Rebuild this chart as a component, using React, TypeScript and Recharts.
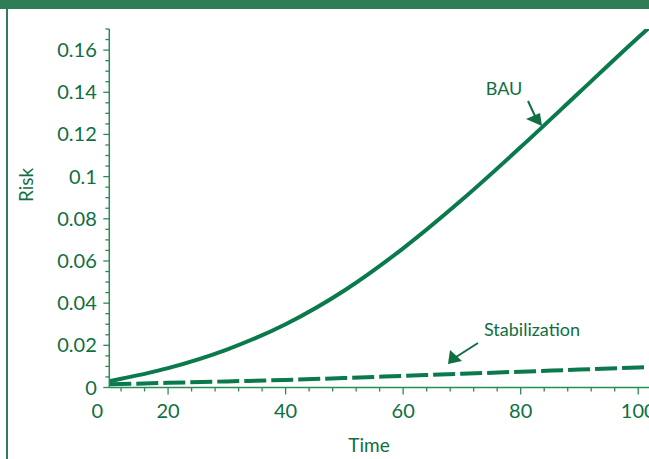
import React from 'react';
import { LineChart, Line, XAxis, YAxis } from 'recharts';

// Time values (axis starts at 10, labelled "0" in the original)
const years = [10, 20, 30, 40, 50, 60, 70, 80, 90, 100, 102];
const bauRisk = [0.003, 0.0092, 0.018, 0.03, 0.046, 0.066, 0.089, 0.114, 0.14, 0.166, 0.171];
const stabRisk = [0.0015, 0.0022, 0.0029, 0.0036, 0.0045, 0.0055, 0.0065, 0.0075, 0.0085, 0.0095, 0.0097];

const xOriginTick = 10;
const xOriginLabel = '0';
const xMajorTicks = [20, 40, 60, 80, 100];
const xMinorTicks = [12, 16, 24, 28, 32, 36, 44, 48, 52, 56, 64, 68, 72, 76, 84, 88, 92, 96, 104, 108];

const yMajorTicks = [0, 0.02, 0.04, 0.06, 0.08, 0.1, 0.12, 0.14, 0.16];
const yMinorTicks = [
  0.005, 0.01, 0.015, 0.025, 0.03, 0.035, 0.045, 0.05, 0.055, 0.065, 0.07, 0.075,
  0.085, 0.09, 0.095, 0.105, 0.11, 0.115, 0.125, 0.13, 0.135, 0.145, 0.15, 0.155, 0.165, 0.17,
];

const data = years.map((t, i) => ({ t, bau: bauRisk[i], stab: stabRisk[i] }));
const xTicks = [xOriginTick, ...xMajorTicks, ...xMinorTicks].sort((a, b) => a - b);
const yTicks = [...yMajorTicks, ...yMinorTicks].sort((a, b) => a - b);

const LINE = '#0a7a4c';
const TEXT = '#0f6e42';
const AXIS = '#2a8a5c';
const HEADER = '#2e7d57';
const FONT = 'Lato, "Open Sans", sans-serif';

const isMajor = (arr: number[], v: number) => arr.some((m) => Math.abs(m - v) < 1e-9);

const XTick = (props: any) => {
  const { x, y, payload } = props;
  const v = payload.value;
  if (Math.abs(v - xOriginTick) < 1e-9) {
    return (
      <g>
        <text x={x - 12} y={y + 30} textAnchor="middle" fill={TEXT} fontSize={20} fontFamily={FONT}>
          {xOriginLabel}
        </text>
      </g>
    );
  }
  const major = isMajor(xMajorTicks, v);
  return (
    <g>
      <line x1={x} x2={x} y1={y} y2={y + (major ? 7 : 4)} stroke={AXIS} strokeWidth={1.3} />
      {major && (
        <text x={x} y={y + 30} textAnchor="middle" fill={TEXT} fontSize={20} fontFamily={FONT}>
          {String(v)}
        </text>
      )}
    </g>
  );
};

const YTick = (props: any) => {
  const { x, y, payload } = props;
  const v = payload.value;
  const major = isMajor(yMajorTicks, v);
  return (
    <g>
      <line x1={x - (major ? 6 : 4)} x2={x} y1={y} y2={y} stroke={AXIS} strokeWidth={1.3} />
      {major && (
        <text x={x - 12.5} y={y + 7} textAnchor="end" fill={TEXT} fontSize={20} fontFamily={FONT}>
          {String(Number(v.toFixed(3)))}
        </text>
      )}
    </g>
  );
};

export default function App() {
  return (
    <div style={{ position: 'absolute', left: 0, top: 0, width: 649, height: 459, overflow: 'hidden', background: '#fff' }}>
      <LineChart width={720} height={459} data={data} margin={{ top: 29, right: 23, bottom: 0, left: 0 }}>
        <XAxis
          dataKey="t"
          type="number"
          domain={[10, 110]}
          ticks={xTicks}
          interval={0}
          tick={XTick}
          tickLine={false}
          tickSize={0}
          tickMargin={0}
          height={71.5}
          axisLine={{ stroke: AXIS, strokeWidth: 1.5 }}
          allowDataOverflow
        />
        <YAxis
          type="number"
          domain={[0, 0.17]}
          ticks={yTicks}
          interval={0}
          tick={YTick}
          tickLine={false}
          tickSize={0}
          tickMargin={0}
          width={109.3}
          axisLine={{ stroke: AXIS, strokeWidth: 1.5 }}
          allowDataOverflow
        />
        <Line
          type="monotone"
          dataKey="bau"
          stroke={LINE}
          strokeWidth={4}
          dot={false}
          isAnimationActive={false}
        />
        <Line
          type="monotone"
          dataKey="stab"
          stroke={LINE}
          strokeWidth={4}
          strokeDasharray="22 5"
          dot={false}
          isAnimationActive={false}
        />
      </LineChart>
      <svg width={649} height={459} style={{ position: 'absolute', left: 0, top: 0, pointerEvents: 'none' }}>
        <rect x={0} y={0} width={649} height={9} fill={HEADER} />
        <rect x={6} y={9} width={2} height={450} fill={HEADER} />
        <text x={25} y={185} transform="rotate(-90 25 185)" textAnchor="middle" dominantBaseline="central" fill={TEXT} fontSize={19} fontFamily={FONT}>
          Risk
        </text>
        <text x={369} y={452} textAnchor="middle" fill={TEXT} fontSize={19} fontFamily={FONT}>
          Time
        </text>
        <text x={504} y={95} textAnchor="middle" fill={TEXT} fontSize={18} fontFamily={FONT}>
          BAU
        </text>
        <line x1={528} y1={101} x2={535} y2={116} stroke={TEXT} strokeWidth={2} />
        <polygon points="526,119 540,113 542,126" fill={TEXT} />
        <text x={532} y={336} textAnchor="middle" fill={TEXT} fontSize={18} fontFamily={FONT}>
          Stabilization
        </text>
        <line x1={478} y1={343} x2={456} y2={357} stroke={TEXT} strokeWidth={2} />
        <polygon points="448,364 450,350 462,361" fill={TEXT} />
      </svg>
    </div>
  );
}
